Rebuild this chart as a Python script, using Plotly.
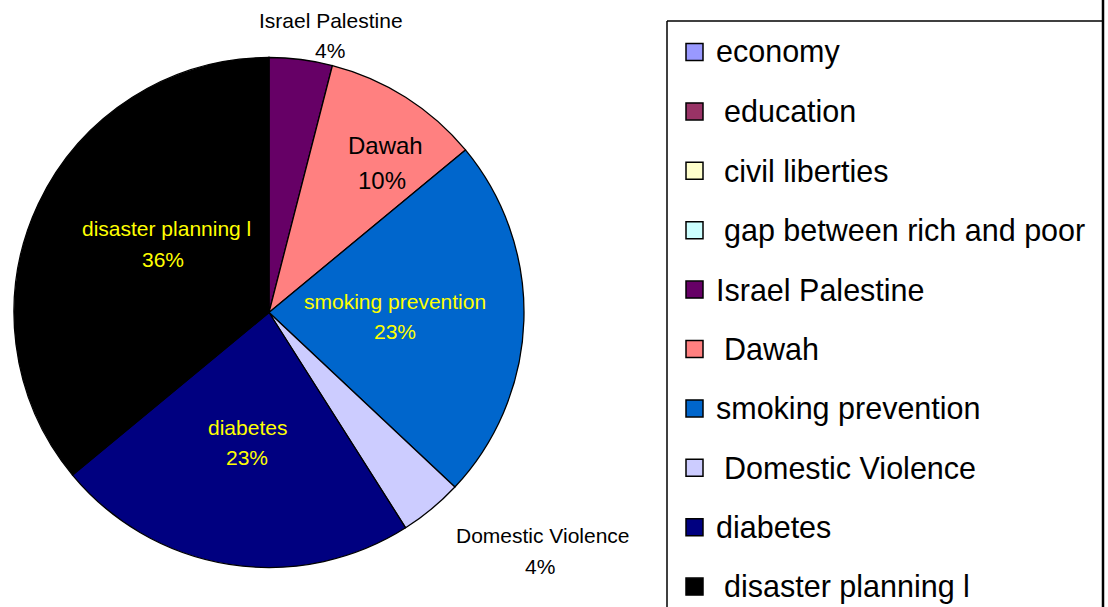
import plotly.graph_objects as go

W, H = 1108, 607

# Survey topics (leading spaces kept as in the source sheet)
categories = ["economy", " education", " civil liberties", " gap between rich and poor",
              "Israel Palestine", " Dawah", "smoking prevention", " Domestic Violence",
              "diabetes", " disaster planning l"]
values = [0, 0, 0, 0, 4, 10, 23, 4, 23, 36]
colors = ["#9999FF", "#993366", "#FFFFCC", "#CCFFFF", "#660066",
          "#FF8080", "#0066CC", "#CCCCFF", "#000080", "#000000"]

FONT = "Liberation Sans, Arial, Helvetica, sans-serif"


def px(x):
    return x / W


def py(y):
    return 1 - y / H


# pie geometry in pixels
cx, cy, r = 269, 312.5, 255

fig = go.Figure()
fig.add_trace(go.Pie(
    labels=[c.strip() for c in categories],
    values=values,
    sort=False,
    direction="clockwise",
    rotation=0,
    marker=dict(colors=colors, line=dict(color="#000000", width=1.3)),
    textinfo="none",
    showlegend=False,
    domain=dict(x=[px(cx - r), px(cx + r)], y=[py(cy + r), py(cy - r)]),
))

# data label placement: name line centre, percent line centre, font size, colour
label_layout = {
    "Israel Palestine": ((331, 21), (330, 50), 21, "#000000"),
    "Dawah": ((385, 145), (382, 180), 24, "#000000"),
    "smoking prevention": ((395, 302), (395, 331), 21, "#FFFF00"),
    "Domestic Violence": ((543, 535), (540, 566), 21, "#000000"),
    "diabetes": ((247, 427), (247, 457), 21, "#FFFF00"),
    "disaster planning l": ((166, 228), (163, 259), 21, "#FFFF00"),
}

annotations = []
for cat, val in zip(categories, values):
    name = cat.strip()
    if name not in label_layout:
        continue
    (nx, ny), (vx, vy), size, col = label_layout[name]
    for text, (x, y) in ((name, (nx, ny)), (f"{val}%", (vx, vy))):
        annotations.append(dict(
            x=px(x), y=py(y), xref="paper", yref="paper",
            text=text, showarrow=False, xanchor="center", yanchor="middle",
            font=dict(family=FONT, size=size, color=col),
        ))

# legend box
shapes = [
    dict(type="line", xref="paper", yref="paper", x0=px(667), x1=px(1103), y0=py(21), y1=py(21),
         line=dict(color="#000000", width=1.5)),
    dict(type="line", xref="paper", yref="paper", x0=px(667), x1=px(667), y0=py(21), y1=py(610),
         line=dict(color="#000000", width=1.5)),
    dict(type="line", xref="paper", yref="paper", x0=px(1103), x1=px(1103), y0=py(-2), y1=py(610),
         line=dict(color="#000000", width=2.5)),
]

first_y, step = 52, 59.4
for i, (cat, col) in enumerate(zip(categories, colors)):
    yc = first_y + i * step
    shapes.append(dict(
        type="rect", xref="paper", yref="paper",
        x0=px(686), x1=px(703), y0=py(yc + 8.5), y1=py(yc - 8.5),
        fillcolor=col, line=dict(color="#000000", width=1.5),
    ))
    indent = 8 * (len(cat) - len(cat.lstrip()))
    annotations.append(dict(
        x=px(714 + indent), y=py(yc), xref="paper", yref="paper",
        text=cat.strip(), showarrow=False, xanchor="left", yanchor="middle",
        font=dict(family=FONT, size=30.5, color="#000000"),
    ))

fig.update_layout(
    width=W, height=H,
    margin=dict(l=0, r=0, t=0, b=0),
    paper_bgcolor="#FFFFFF",
    plot_bgcolor="#FFFFFF",
    shapes=shapes,
    annotations=annotations,
    showlegend=False,
)

fig.write_html("out.html")
